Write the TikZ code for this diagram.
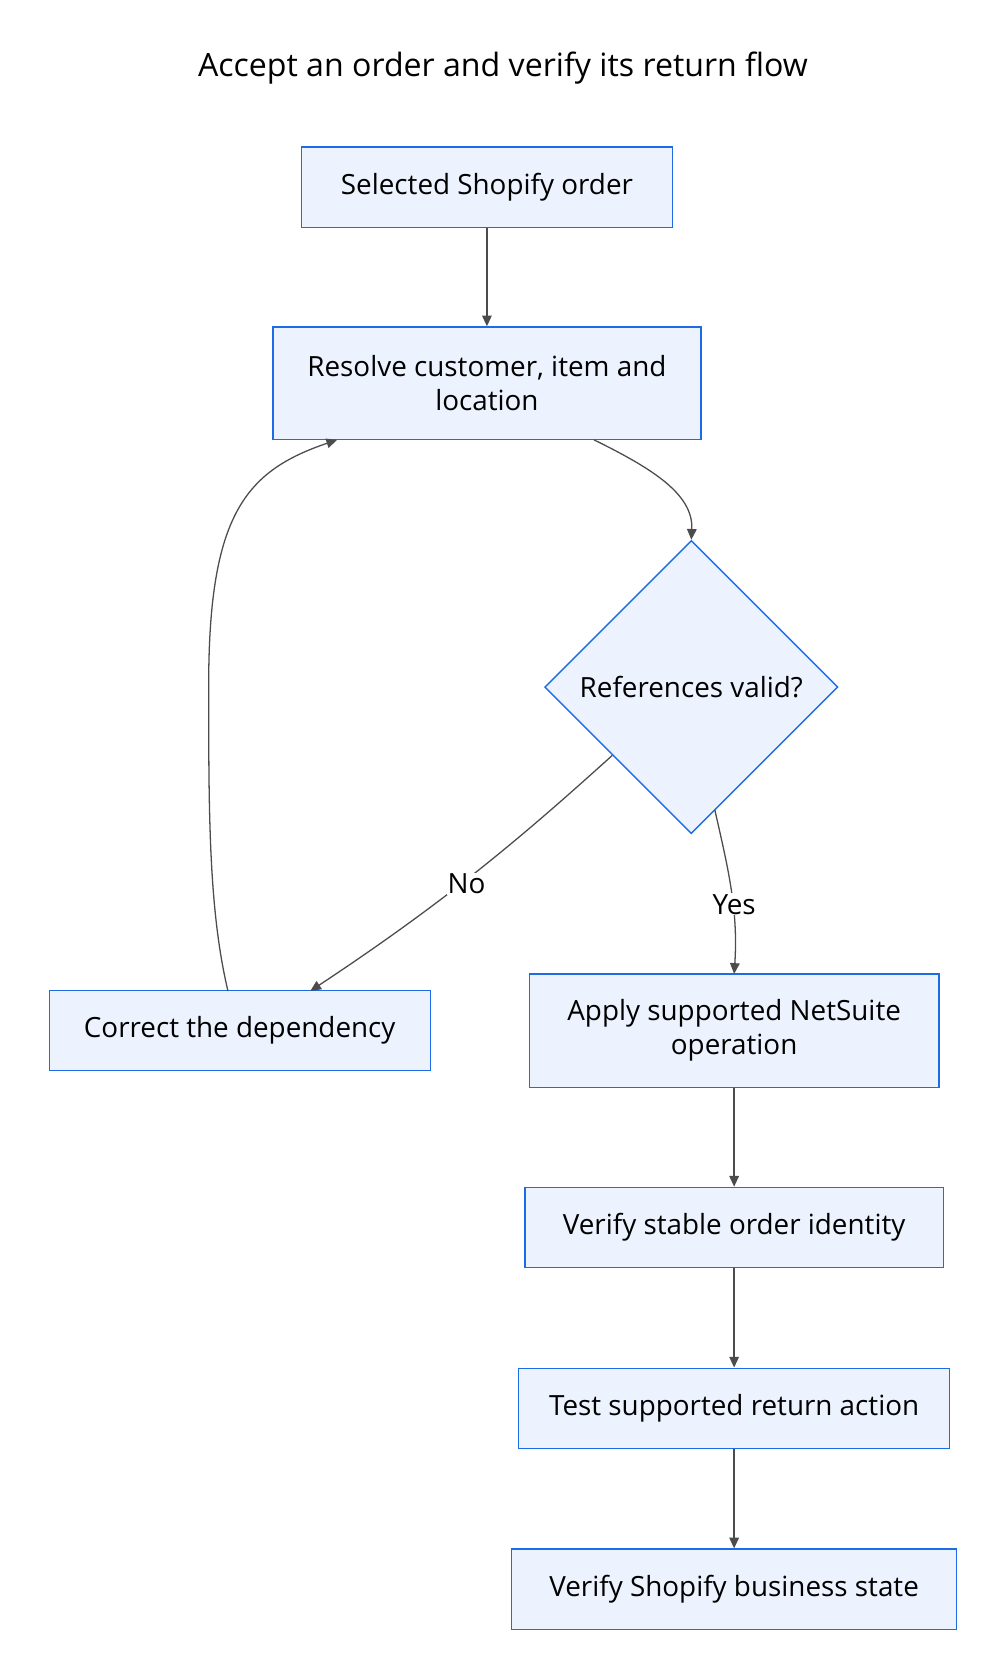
\documentclass[tikz,border=0pt]{standalone}
\usepackage{fontspec}
\setmainfont{Open Sans}
\usetikzlibrary{shapes.geometric,arrows.meta}
\definecolor{bord}{RGB}{30,108,229}
\definecolor{fil}{RGB}{236,243,254}
\begin{document}
\begin{tikzpicture}[x=1pt,y=-1pt,
  box/.style={draw=bord,line width=1.3pt,fill=fil,font=\fontsize{26}{32}\selectfont,align=center,inner sep=0pt},
  dia/.style={draw=bord,line width=1.3pt,fill=fil,diamond,font=\fontsize{26}{32}\selectfont,minimum width=274pt,minimum height=274pt,inner sep=0pt},
  conn/.style={draw=black!70,line width=1.2pt,-{Triangle[length=10pt,width=9pt]}},
  lbl/.style={font=\fontsize{26}{32}\selectfont,fill=white,inner sep=1pt}]
\useasboundingbox (0,0) rectangle (940,1568);
\node[font=\fontsize{30}{36}\selectfont] (title) at (470,64) {Accept an order and verify its return flow};
\node[box,minimum width=347pt,minimum height=75pt] (a) at (455,175) {Selected Shopify order};
\node[box,minimum width=400pt,minimum height=105pt] (b) at (455,358) {Resolve customer, item and\\location};
\node[dia] (c) at (646,642) {References valid?};
\node[box,minimum width=356pt,minimum height=75pt] (d) at (224,963) {Correct the dependency};
\node[box,minimum width=383pt,minimum height=106pt] (e) at (686,963) {Apply supported NetSuite\\operation};
\node[box,minimum width=391pt,minimum height=75pt] (f) at (686,1147) {Verify stable order identity};
\node[box,minimum width=403pt,minimum height=75pt] (g) at (686,1316) {Test supported return action};
\node[box,minimum width=416pt,minimum height=75pt] (h) at (686,1485) {Verify Shopify business state};
\coordinate (b1) at (555,411);
\coordinate (b2) at (315,411);
\coordinate (c1) at (572,706);
\coordinate (c2) at (668,757);
\coordinate (d1) at (290,926);
\coordinate (d2) at (213,926);
\coordinate (e1) at (686,910);
\draw[conn] (a) -- (b);
\draw[conn] (b1) .. controls (610,438) and (648,462) .. (c.north);
\draw[conn] (c1) .. controls (490,780) and (420,840) .. (d1);
\draw[conn] (c2) .. controls (680,810) and (690,850) .. (e1);
\draw[conn] (d2) .. controls (195,850) and (195,760) .. (195,640) .. controls (195,480) and (230,440) .. (b2);
\node[lbl] (no) at (436,826) {No};
\node[lbl] (yes) at (686,845) {Yes};
\draw[conn] (e) -- (f);
\draw[conn] (f) -- (g);
\draw[conn] (g) -- (h);
\end{tikzpicture}
\end{document}
